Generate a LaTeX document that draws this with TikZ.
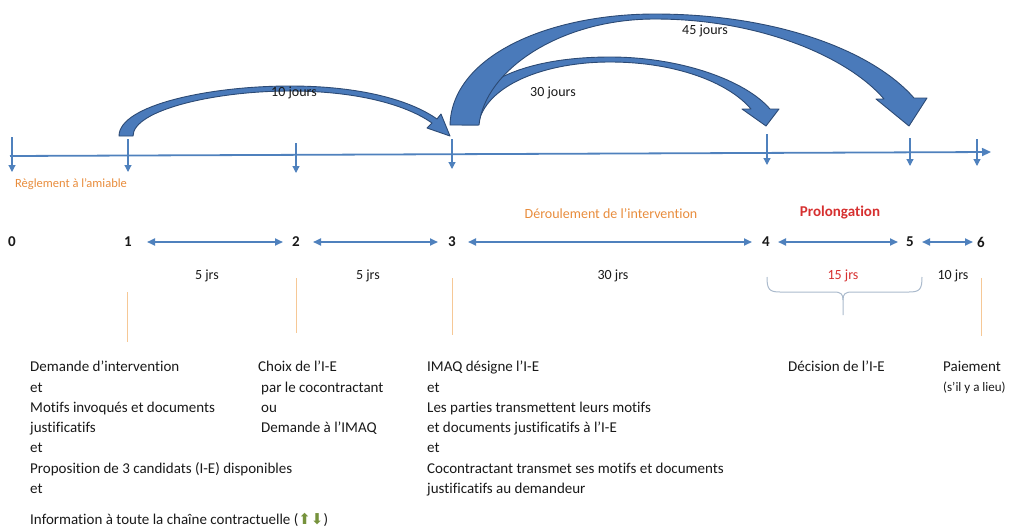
\documentclass[tikz,border=0pt]{standalone}
\usepackage{fontspec}
\setmainfont{Carlito}[Ligatures=NoCommon]
\newfontfamily\symfont{DejaVu Sans}
\usepackage{xcolor}
\definecolor{Col1}{RGB}{79,129,189}
\definecolor{Col2}{RGB}{74,122,186}
\definecolor{Col3}{RGB}{44,74,116}
\definecolor{Col4}{RGB}{232,140,60}
\definecolor{Col5}{RGB}{214,48,48}
\definecolor{Col6}{RGB}{246,200,150}
\definecolor{Col7}{RGB}{170,186,204}
\definecolor{Col8}{RGB}{118,146,60}
\definecolor{Ink}{RGB}{25,25,25}
\usepackage{tikz}
\usetikzlibrary{arrows.meta}
\tikzstyle{Axis}=[draw=Col1,line width=1.8pt,-{Triangle[length=9pt,width=8pt]}]
\tikzstyle{Tick}=[draw=Col1,line width=1.2pt,-{Triangle[length=7pt,width=7pt]}]
\tikzstyle{Span}=[draw=Col1,line width=1.8pt,
{Triangle[length=8pt,width=7pt]}-{Triangle[length=8pt,width=7pt]}]
\tikzstyle{Bend}=[fill=Col2,draw=Col3,line width=0.9pt,line join=round]
\tikzstyle{Guide}=[draw=Col6,line width=1pt]
\tikzstyle{Brace}=[draw=Col7,line width=1pt,line join=round]
\tikzstyle{Num}=[font=\fontsize{15}{18}\selectfont\bfseries,text=Ink,inner sep=0pt]
\tikzstyle{Lbl}=[font=\fontsize{14}{17}\selectfont,text=Ink,inner sep=0pt]
\tikzstyle{Txt}=[font=\fontsize{15}{20.3}\selectfont,text=Ink,align=left,
inner sep=0pt,anchor=north west]

\begin{document}
\begin{tikzpicture}[x=1pt,y=-1pt]
        \useasboundingbox(0,0)rectangle(1010,531);
        % time axis
        \coordinate(a)at(10,156);
        \coordinate(b)at(991,152);
        \draw[Axis](a)--(b);
        \coordinate(u0)at(12,137);
        \coordinate(d0)at(12,172);
        \coordinate(u1)at(128,139);
        \coordinate(d1)at(128,172);
        \coordinate(u2)at(296,143);
        \coordinate(d2)at(296,173);
        \coordinate(u3)at(452,139);
        \coordinate(d3)at(452,169);
        \coordinate(u4)at(767,134);
        \coordinate(d4)at(767,165);
        \coordinate(u5)at(910,138);
        \coordinate(d5)at(910,166);
        \coordinate(u6)at(977,139);
        \coordinate(d6)at(977,166);
        \draw[Tick](u0)--(d0);
        \draw[Tick](u1)--(d1);
        \draw[Tick](u2)--(d2);
        \draw[Tick](u3)--(d3);
        \draw[Tick](u4)--(d4);
        \draw[Tick](u5)--(d5);
        \draw[Tick](u6)--(d6);
        % curved block arrows
        \draw[Bend](119,136)..controls(119,105)and(210,86)..(290,86)
            ..controls(360,86)and(410,100)..(437,119)--(441,114)--(450,136)
            --(427,128)--(432,123)..controls(405,104)and(355,91)..(290,91)
            ..controls(215,91)and(133,110)..(133,136)--cycle;
        \draw[Bend](462,125)..controls(468,80)and(530,57)..(610,57)
            ..controls(680,57)and(745,80)..(770,109)--(779,109)--(766,126)
            --(742,109)--(751,109)..controls(728,82)and(675,62)..(610,62)
            ..controls(545,62)and(485,85)..(478,125)--cycle;
        \draw[Bend](450,125)..controls(452,55)and(550,14)..(655,14)
            ..controls(775,14)and(872,50)..(914,98)--(927,98)--(909,126)
            --(876,99)--(884,99)..controls(848,57)and(760,19)..(655,19)
            ..controls(560,19)and(485,70)..(479,125)--cycle;
        \node[Lbl](j10)at(294,93){10 jours};
        \node[Lbl](j30)at(553,93){30 jours};
        \node[Lbl](j45)at(705,31){45 jours};
        % phases
        \node[Lbl,font=\fontsize{12.5}{15}\selectfont,text=Col4](amiable)at(71,184){Règlement à l’amiable};
        \node[Lbl,text=Col4](deroul)at(611,214){Déroulement de l’intervention};
        \node[Num,text=Col5](prolong)at(840,213){Prolongation};
        % steps
        \node[Num](0)at(12,242){0};
        \node[Num](1)at(128,242){1};
        \node[Num](2)at(296,242){2};
        \node[Num](3)at(452,242){3};
        \node[Num](4)at(766,242){4};
        \node[Num](5)at(910,242){5};
        \node[Num](6)at(981,242){6};
        \draw[Span,shorten <=15pt,shorten >=9pt](1)--(2);
        \draw[Span,shorten <=13pt,shorten >=10pt](2)--(3);
        \draw[Span,shorten <=12pt,shorten >=10pt](3)--(4);
        \draw[Span,shorten <=8pt,shorten >=8pt](4)--(5);
        \draw[Span,shorten <=8pt,shorten >=4pt](5)--(6);
        \node[Lbl](s12)at(207,276){5 jrs};
        \node[Lbl](s23)at(368,276){5 jrs};
        \node[Lbl](s34)at(613,276){30 jrs};
        \node[Lbl,text=Col5](s45)at(843,276){15 jrs};
        \node[Lbl](s56)at(953,276){10 jrs};
        % brace
        \coordinate(br1)at(767,277);
        \coordinate(brm)at(843,315);
        \coordinate(br2)at(922,277);
        \draw[Brace](br1)..controls(767,289)and(769,292)..(780,292)--(834,292)
            ..controls(841,292)and(843,294)..(843,300)--(brm);
        \draw[Brace](843,300)..controls(843,294)and(845,292)..(852,292)--(909,292)
            ..controls(920,292)and(922,289)..(br2);
        % guides
        \coordinate(g1a)at(127,292);
        \coordinate(g1b)at(127,342);
        \coordinate(g2a)at(296,278);
        \coordinate(g2b)at(296,333);
        \coordinate(g3a)at(452,278);
        \coordinate(g3b)at(452,335);
        \coordinate(g6a)at(981,278);
        \coordinate(g6b)at(981,336);
        \draw[Guide](g1a)--(g1b);
        \draw[Guide](g2a)--(g2b);
        \draw[Guide](g3a)--(g3b);
        \draw[Guide](g6a)--(g6b);
        % descriptions
        \node[Txt](t1)at(30,361){Demande d’intervention\\et\\Motifs invoqués et documents\\justificatifs\\et\\Proposition de 3 candidats (I-E) disponibles\\et};
        \node[Txt](t1b)at(30,513){Information à toute la chaîne contractuelle ({\symfont\color{Col8}⬆⬇})};
        \node[Txt](t2)at(261,361){\hspace*{-3pt}Choix de l’I-E\\par le cocontractant\\ou\\Demande à l’IMAQ};
        \node[Txt](t3)at(427,361){IMAQ désigne l’I-E\\et\\Les parties transmettent leurs motifs\\et documents justificatifs à l’I-E\\et\\Cocontractant transmet ses motifs et documents\\justificatifs au demandeur};
        \node[Txt](t4)at(788,361){Décision de l’I-E};
        \node[Txt](t5)at(943,361){Paiement\\{\fontsize{13}{16}\selectfont(s’il y a lieu)}};
    \end{tikzpicture}
\end{document}
